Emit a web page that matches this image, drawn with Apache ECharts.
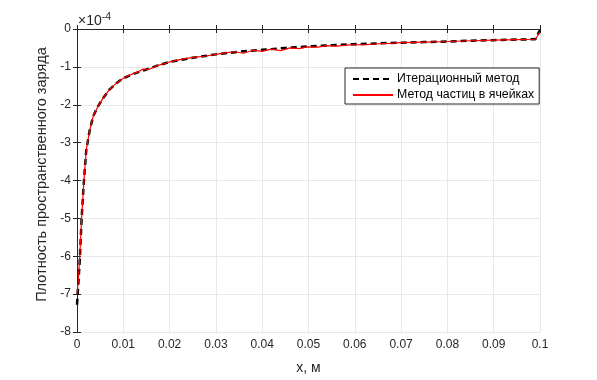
<!DOCTYPE html>
<html>
<head>
<meta charset="utf-8">
<script src="https://cdn.jsdelivr.net/npm/echarts@6/dist/echarts.min.js"></script>
<style>
  html, body { margin: 0; padding: 0; background: #fff; }
  #chart { width: 597px; height: 380px; }
</style>
</head>
<body>
<div id="chart"></div>
<script>
// значения в единицах 1e-4
var iterX = [0, 0.0003, 0.0006, 0.001, 0.0015, 0.002, 0.0027, 0.0035, 0.0045, 0.0055, 0.007, 0.0085,
  0.01, 0.0125, 0.015, 0.0175, 0.02, 0.025, 0.03, 0.035, 0.04, 0.045, 0.05, 0.055, 0.06, 0.065,
  0.07, 0.075, 0.08, 0.085, 0.09, 0.095, 0.099, 0.1];
var iterY = [-7.28, -6.7, -6.1, -5.0, -4.0, -3.2, -2.7, -2.3, -2.05, -1.85, -1.6, -1.43,
  -1.3, -1.17, -1.07, -0.96, -0.87, -0.76, -0.67, -0.6, -0.55, -0.5, -0.46, -0.43, -0.4, -0.38,
  -0.36, -0.345, -0.33, -0.31, -0.295, -0.28, -0.27, -0.03];

var picX = [0, 0.0003, 0.0006, 0.001, 0.0015, 0.002, 0.0027, 0.0035, 0.0045, 0.0055, 0.007, 0.0085,
  0.01, 0.0115, 0.013, 0.0143, 0.0155, 0.0175, 0.02, 0.0225, 0.025, 0.0275, 0.03, 0.032, 0.034,
  0.036, 0.038, 0.04, 0.042, 0.044, 0.046, 0.048, 0.0497, 0.052, 0.054, 0.056, 0.059, 0.0625,
  0.065, 0.0675, 0.07, 0.075, 0.08, 0.085, 0.09, 0.095, 0.099, 0.1];
var picY = [-7.0, -6.6, -6.0, -5.0, -4.0, -3.2, -2.7, -2.3, -2.05, -1.85, -1.6, -1.43,
  -1.3, -1.21, -1.14, -1.06, -1.07, -0.96, -0.87, -0.8, -0.75, -0.72, -0.67, -0.63, -0.6,
  -0.64, -0.56, -0.59, -0.53, -0.57, -0.5, -0.52, -0.47, -0.48, -0.44, -0.45, -0.42, -0.41,
  -0.39, -0.38, -0.36, -0.345, -0.33, -0.31, -0.295, -0.28, -0.27, -0.08];

var xTicks = [0, 0.01, 0.02, 0.03, 0.04, 0.05, 0.06, 0.07, 0.08, 0.09, 0.1];

function pairs(xs, ys) {
  return xs.map(function (x, i) { return [x, ys[i]]; });
}

var chart = echarts.init(document.getElementById('chart'));
var axisColor = '#262626';
var font = 'Liberation Sans, Arial, sans-serif';

chart.setOption({
  animation: false,
  textStyle: { fontFamily: font },
  grid: { left: 77, right: 57, top: 29, bottom: 47 },
  xAxis: [{
    type: 'value', min: 0, max: 0.1, interval: 0.01,
    name: 'x, м', nameLocation: 'middle', nameGap: 29,
    nameTextStyle: { color: axisColor, fontSize: 14 },
    axisLine: { lineStyle: { color: axisColor } },
    axisTick: { inside: true, length: 4, lineStyle: { color: axisColor } },
    axisLabel: { color: axisColor, fontSize: 12, margin: 7,
      formatter: function (v) { return xTicks.indexOf(+v.toFixed(2)) >= 0 ? String(+v.toFixed(2)) : ''; } },
    splitLine: { show: true, lineStyle: { color: '#e8e8e8' } }
  }, {
    type: 'value', min: 0, max: 0.1, interval: 0.01, position: 'top',
    axisLine: { show: true, lineStyle: { color: axisColor } },
    axisTick: { show: true, inside: true, length: 4, lineStyle: { color: axisColor } },
    axisLabel: { show: false }, splitLine: { show: false }
  }],
  yAxis: [{
    type: 'value', min: -8, max: 0, interval: 1,
    name: 'Плотность пространственного заряда', nameLocation: 'middle', nameGap: 17,
    nameTextStyle: { color: axisColor, fontSize: 14.5, padding: [0, 0, 0, 12] },
    axisLine: { show: true, lineStyle: { color: axisColor } },
    axisTick: { show: true, inside: true, length: 4, lineStyle: { color: axisColor } },
    axisLabel: { color: axisColor, fontSize: 12, margin: 6 },
    splitLine: { show: true, lineStyle: { color: '#e8e8e8' } }
  }, {
    type: 'value', min: -8, max: 0, interval: 1, position: 'right',
    axisLine: { show: true, lineStyle: { color: axisColor } },
    axisTick: { show: true, inside: true, length: 4, lineStyle: { color: axisColor } },
    axisLabel: { show: false }, splitLine: { show: false }
  }],
  legend: {
    orient: 'vertical', left: 345, top: 68,
    backgroundColor: '#fff', borderColor: axisColor, borderWidth: 1,
    padding: [5, 5, 3, 7], itemGap: 4, itemWidth: 40, itemHeight: 14,
    itemStyle: { opacity: 0 },
    textStyle: { color: '#000', fontSize: 12.3, padding: [0, 0, 0, -1] },
    data: ['Итерационный метод', 'Метод частиц в ячейках']
  },
  graphic: [{
    type: 'text', left: 78, top: 12,
    style: {
      text: '×10{s|-4}', fill: axisColor, font: '14px ' + font,
      rich: { s: { fontSize: 10.5, verticalAlign: 'top', padding: [0, 0, 8, 0], fill: axisColor } }
    }
  }],
  series: [{
    name: 'Итерационный метод', type: 'line', symbol: 'none',
    data: pairs(iterX, iterY),
    lineStyle: { color: '#000', width: 2.5, type: [6, 4] },
    itemStyle: { color: '#000' }, z: 2
  }, {
    name: 'Метод частиц в ячейках', type: 'line', symbol: 'none',
    data: pairs(picX, picY),
    lineStyle: { color: '#ff0000', width: 1.2 },
    itemStyle: { color: '#ff0000' }, z: 3
  }]
});
</script>
</body>
</html>
